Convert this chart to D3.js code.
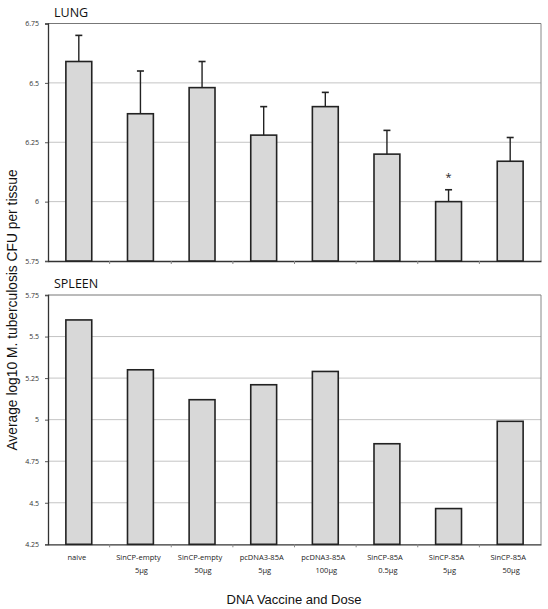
<!DOCTYPE html>
<html><head><meta charset="utf-8">
<script src="https://cdn.jsdelivr.net/npm/d3@7"></script>
<style>body{margin:0;background:#fff;} svg{display:block;}</style>
</head><body>
<script>
const categories = ["naive","SinCP-empty","SinCP-empty","pcDNA3-85A","pcDNA3-85A","SinCP-85A","SinCP-85A","SinCP-85A"];
const doses = ["","5µg","50µg","5µg","100µg","0.5µg","5µg","50µg"];
const lungValues = [6.59, 6.37, 6.48, 6.28, 6.40, 6.20, 6.00, 6.17];
const lungErrors = [0.11, 0.18, 0.11, 0.12, 0.06, 0.10, 0.05, 0.10];
const spleenValues = [5.60, 5.30, 5.12, 5.21, 5.29, 4.855, 4.465, 4.99];
const lungTicks = [5.75, 6, 6.25, 6.5, 6.75];
const lungTickLabels = ["5.75","6","6.25","6.5","6.75"];
const spleenTicks = [4.25, 4.5, 4.75, 5, 5.25, 5.5, 5.75];
const spleenTickLabels = ["4.25","4.5","4.75","5","5.25","5.5","5.75"];
const significant = [false,false,false,false,false,false,true,false];

const W = 548, H = 609;
const svg = d3.select("body").append("svg").attr("width", W).attr("height", H);
const font = "'Open Sans', 'DejaVu Sans', sans-serif";

const x = d3.scaleBand().domain(d3.range(categories.length)).range([48, 541]).paddingInner(0.58).paddingOuter(0.29);
const xb = d3.scaleBand().domain(d3.range(categories.length)).range([48, 541]);

function panel(title, values, errors, ticks, tickLabels, top, bottom, titleY) {
  const y = d3.scaleLinear().domain([ticks[0], ticks[ticks.length-1]]).range([bottom, top]);
  const g = svg.append("g");
  g.selectAll("line.grid").data(ticks.slice(1, -1)).join("line")
    .attr("x1", 48).attr("x2", 541).attr("y1", d => y(d)).attr("y2", d => y(d))
    .attr("stroke", "#c4c4c4").attr("stroke-width", 1);
  g.append("line").attr("x1", 48).attr("x2", 541).attr("y1", top).attr("y2", top)
    .attr("stroke", "#777").attr("stroke-width", 1);
  g.append("line").attr("x1", 541).attr("x2", 541).attr("y1", top).attr("y2", bottom)
    .attr("stroke", "#888").attr("stroke-width", 1);
  const ya = d3.axisLeft(y).tickValues(ticks).tickFormat((d,i) => tickLabels[i]).tickSize(3).tickPadding(6);
  const ay = g.append("g").attr("transform", "translate(48,0)").call(ya);
  ay.select(".domain").attr("stroke", "#333").attr("stroke-width", 1.3);
  ay.selectAll(".tick line").attr("stroke", "#555");
  ay.selectAll("text").attr("font-family", font).attr("font-size", 7).attr("fill", "#333");
  const xa = d3.axisBottom(xb).tickValues([]).tickSizeOuter(0);
  const ax = g.append("g").attr("transform", `translate(0,${bottom})`).call(xa);
  ax.select(".domain").attr("stroke", "#333").attr("stroke-width", 1.3);
  g.selectAll("line.btick").data(d3.range(1, categories.length)).join("line")
    .attr("x1", d => xb(d)).attr("x2", d => xb(d)).attr("y1", bottom).attr("y2", bottom + 3)
    .attr("stroke", "#888");
  g.selectAll("rect.bar").data(values).join("rect")
    .attr("x", (d,i) => x(i)).attr("width", x.bandwidth())
    .attr("y", d => y(d)).attr("height", d => bottom - y(d))
    .attr("fill", "#d8d8d8").attr("stroke", "#222").attr("stroke-width", 1.6);
  if (errors) {
    g.selectAll("line.err").data(values).join("line")
      .attr("x1", (d,i) => x(i) + x.bandwidth()/2).attr("x2", (d,i) => x(i) + x.bandwidth()/2)
      .attr("y1", d => y(d)).attr("y2", (d,i) => y(d + errors[i]))
      .attr("stroke", "#222").attr("stroke-width", 1.4);
    g.selectAll("line.cap").data(values).join("line")
      .attr("x1", (d,i) => x(i) + x.bandwidth()/2 - 3.5).attr("x2", (d,i) => x(i) + x.bandwidth()/2 + 3.5)
      .attr("y1", (d,i) => y(d + errors[i])).attr("y2", (d,i) => y(d + errors[i]))
      .attr("stroke", "#222").attr("stroke-width", 1.6);
    const sigIdx = d3.range(values.length).filter(i => significant[i]);
    g.selectAll("text.sig").data(sigIdx).join("text")
      .attr("x", i => x(i) + x.bandwidth()/2)
      .attr("y", i => y(values[i] + errors[i]) - 9)
      .attr("text-anchor", "middle").attr("font-family", font).attr("font-size", 11)
      .attr("fill", "#222").text("*");
  }
  g.append("text").attr("x", 54).attr("y", titleY).attr("font-family", font).attr("font-size", 12.5)
    .attr("fill", "#111").text(title);
  return y;
}

panel("LUNG", lungValues, lungErrors, lungTicks, lungTickLabels, 23.5, 261, 17);
panel("SPLEEN", spleenValues, null, spleenTicks, spleenTickLabels, 295, 544.3, 288);

const lab = svg.append("g");
lab.selectAll("text.c1").data(categories).join("text")
  .attr("x", (d,i) => xb(i) + xb.bandwidth()/2 - 2).attr("y", 560)
  .attr("text-anchor", "middle").attr("font-family", font).attr("font-size", 7.5).attr("fill", "#222").text(d => d);
lab.selectAll("text.c2").data(doses).join("text")
  .attr("x", (d,i) => xb(i) + xb.bandwidth()/2 + 1).attr("y", 573)
  .attr("text-anchor", "middle").attr("font-family", font).attr("font-size", 7.5).attr("fill", "#222").text(d => d);

svg.append("text").attr("x", 294).attr("y", 604).attr("text-anchor", "middle")
  .attr("font-family", "'Liberation Sans', Arial, sans-serif").attr("font-size", 13).attr("fill", "#111")
  .text("DNA Vaccine and Dose");
svg.append("text").attr("transform", "translate(17,310) rotate(-90)").attr("text-anchor", "middle")
  .attr("font-family", "'Liberation Sans', Arial, sans-serif").attr("font-size", 13.8).attr("fill", "#111")
  .text("Average log10 M. tuberculosis CFU per tissue");
</script>
</body></html>
